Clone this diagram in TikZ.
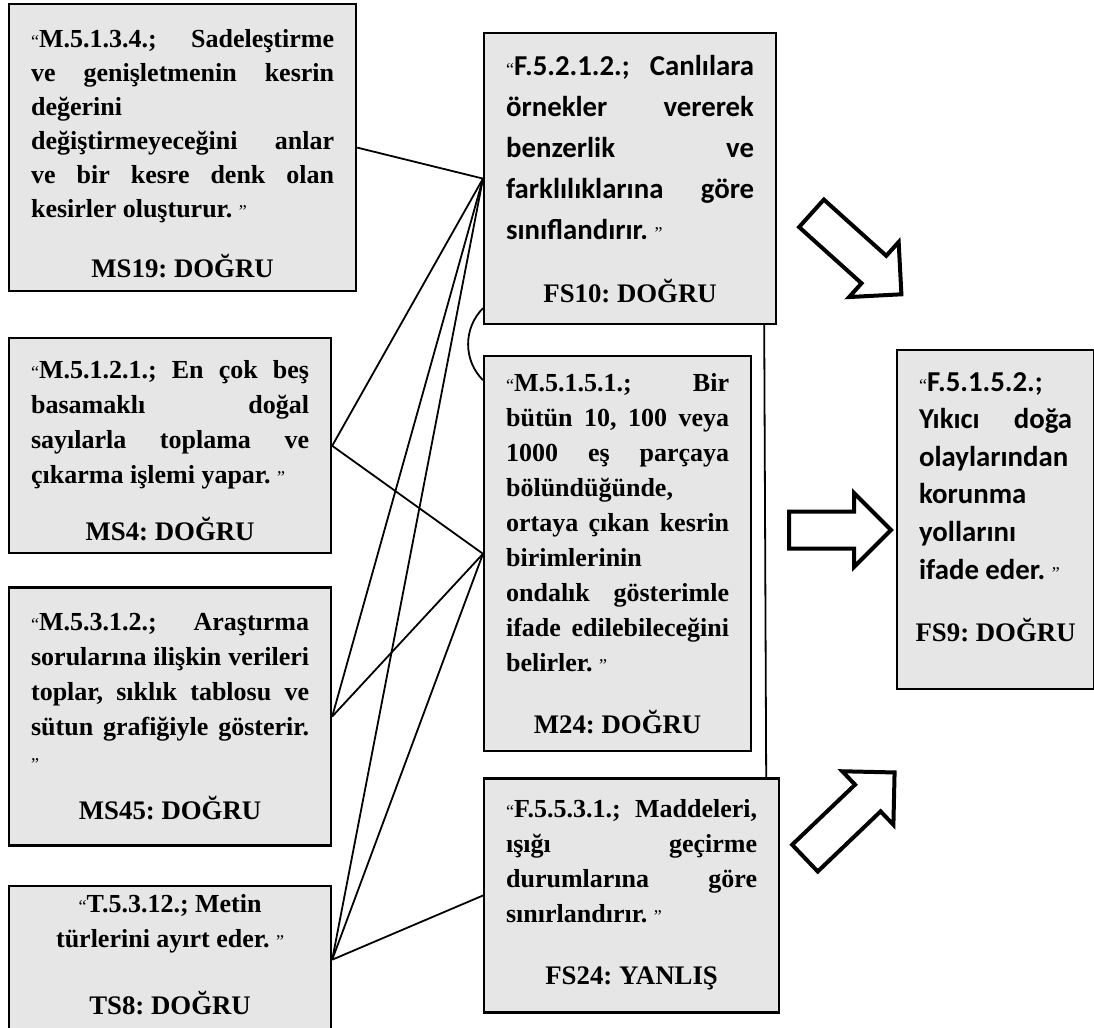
\documentclass[tikz,border=0pt]{standalone}
\usepackage{fontspec}
\setmainfont{Liberation Serif}
\newfontfamily\calibri{Carlito}
\usepackage{tikz}
\usetikzlibrary{positioning,shapes.arrows}
\definecolor{Kutu}{HTML}{E6E6E6}
\setlength{\parindent}{0pt}
\frenchspacing
\hyphenpenalty=10000
\exhyphenpenalty=10000
\tolerance=10000
\hbadness=10000
\newcommand{\acq}{{\rmfamily\mdseries\fontsize{9}{9}\selectfont “}}
\newcommand{\kpq}{{\rmfamily\mdseries\fontsize{9}{9}\selectfont ”}}
\newcommand{\sonuc}[2][13.5pt]{\par\vspace{#1}{\centering\rmfamily\bfseries
  \fontsize{13.4}{17.5}\selectfont\makebox[\linewidth]{#2}\par}}

\begin{document}
\begin{tikzpicture}[x=0.5pt,y=-0.5pt,
  kutu/.style={draw=black,fill=Kutu,line width=1.1pt,inner xsep=11pt,inner ysep=0pt,
               align=justify,anchor=north west,
               font=\fontsize{13}{17.5}\selectfont\bfseries},
  fkutu/.style={kutu,font=\calibri\fontsize{14.4}{20.5}\selectfont\bfseries},
  bag/.style={line width=0.9pt},
  ok/.style={single arrow,draw=black,fill=white,line width=2pt,inner xsep=0pt,
             inner ysep=8.25pt,single arrow head extend=9.25pt,anchor=tail}]
\useasboundingbox (0,0) rectangle (1094,1028);
\node[kutu,font=\fontsize{13}{17}\selectfont\bfseries,
      text width=151.5pt,minimum height=143.5pt] (ms19) at (8,3)
  {\rule{0pt}{15.5pt}\acq M.5.1.3.4.; Sadeleştirme\linebreak ve genişletmenin kesrin\linebreak
   değerini\linebreak değiştirmeyeceğini anlar\linebreak ve bir kesre denk olan\linebreak
   kesirler oluşturur. \kpq\sonuc[12.5pt]{MS19: DOĞRU}};
\node[kutu,below=22.5pt of ms19.south west,anchor=north west,
      text width=139pt,minimum height=107.5pt] (ms4)
  {\rule{0pt}{13.4pt}\acq M.5.1.2.1.; En çok beş\linebreak basamaklı doğal\linebreak
   sayılarla toplama ve\linebreak çıkarma işlemi yapar. \kpq\sonuc[11pt]{MS4: DOĞRU}};
\node[kutu,below=16pt of ms4.south west,anchor=north west,
      text width=139pt,minimum height=129pt] (ms45)
  {\acq M.5.3.1.2.; Araştırma\linebreak sorularına ilişkin verileri\linebreak
   toplar, sıklık tablosu ve\linebreak sütun grafiğiyle gösterir.\linebreak
   \kpq\sonuc[7pt]{MS45: DOĞRU}};
\node[kutu,below=19pt of ms45.south west,anchor=north west,
      text width=139pt,minimum height=74pt] (ts8)
  {{\centering\acq T.5.3.12.; Metin\\ türlerini ayırt eder. \kpq\par}%
   \sonuc[16pt]{TS8: DOĞRU\rule[-5.5pt]{0pt}{5.5pt}}};
\node[fkutu,text width=124pt,minimum height=145.5pt] (fs10) at (483,32)
  {\acq F.5.2.1.2.; Canlılara\linebreak örnekler vererek\linebreak benzerlik ve\linebreak
   farklılıklarına göre\linebreak sınıflandırır. \kpq\sonuc[14pt]{FS10: DOĞRU}};
\node[kutu,below=15pt of fs10.south west,anchor=north west,
      text width=111.5pt,minimum height=197.5pt] (m24)
  {\acq M.5.1.5.1.; Bir\linebreak bütün 10, 100 veya\linebreak 1000 eş parçaya\linebreak
   bölündüğünde,\linebreak ortaya çıkan kesrin\linebreak birimlerinin\linebreak
   ondalık gösterimle\linebreak ifade edilebileceğini\linebreak
   belirler. \kpq\sonuc{M24: DOĞRU}};
\node[kutu,below=12.5pt of m24.south west,anchor=north west,
      text width=125.5pt,minimum height=117pt] (fs24)
  {\acq F.5.5.3.1.; Maddeleri,\linebreak ışığı geçirme\linebreak durumlarına göre\linebreak
   sınırlandırır. \kpq\sonuc{FS24: YANLIŞ\rule[-4pt]{0pt}{4pt}}};
\node[fkutu,font=\calibri\fontsize{14.4}{18.8}\selectfont\bfseries,
      text width=76.5pt,minimum height=169.5pt] (fs9) at (896,349)
  {\acq F.5.1.5.2.;\linebreak Yıkıcı doğa\linebreak olaylarından\linebreak korunma\linebreak
   yollarını\linebreak ifade eder. \kpq\sonuc{FS9: DOĞRU\rule[-13pt]{0pt}{13pt}}};
\draw[bag] (ms19.east) -- (fs10.west);
\foreach \k in {ms4,ms45,ts8}{
  \draw[bag] (fs10.west) -- (\k.east);
  \draw[bag] (m24.west) -- (\k.east);}
\draw[bag] (ts8.east) -- (fs24.west);
\draw[bag] ([yshift=8.5pt]fs10.south west) to[out=225,in=135] ([yshift=-12.5pt]m24.north west);
\draw[bag] ([xshift=-6.5pt]fs10.south east) -- ([xshift=-7pt]fs24.north east);
\node[ok,minimum height=60.5pt,rotate=-42] (ok1) at (810,212) {};
\node[ok,minimum height=51pt] (ok2) at (787,530) {};
\node[ok,minimum height=62pt,rotate=43.7] (ok3) at (803.5,859.5) {};
\end{tikzpicture}
\end{document}
